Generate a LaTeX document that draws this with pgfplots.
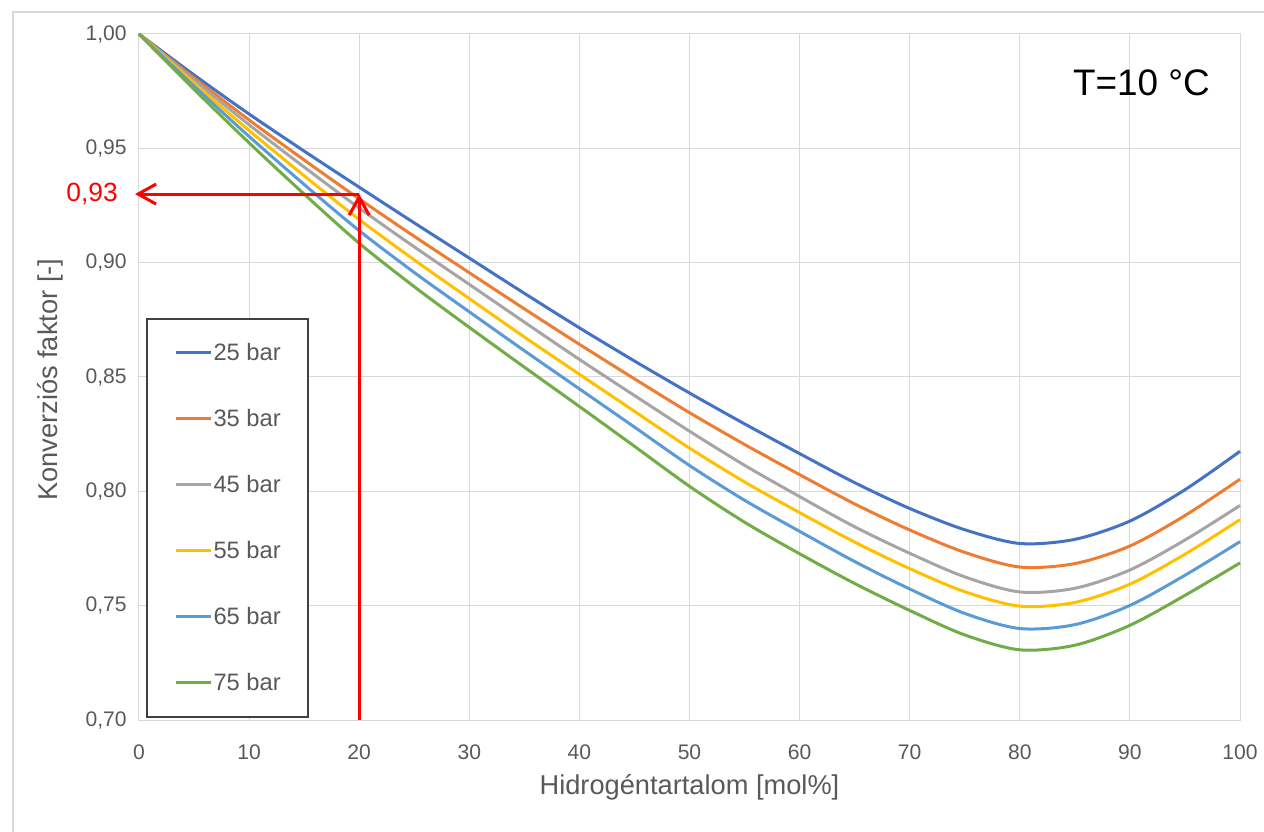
\documentclass[border=0pt]{standalone}
\usepackage{fontspec}
\setmainfont{Liberation Sans}
\usepackage{pgfplots}
\pgfplotsset{compat=1.18}
\usepackage{pgfplotstable}
\usetikzlibrary{arrows.meta}

\definecolor{c25}{HTML}{4472C4}
\definecolor{c35}{HTML}{ED7D31}
\definecolor{c45}{HTML}{A5A5A5}
\definecolor{c55}{HTML}{FFC000}
\definecolor{c65}{HTML}{5B9BD5}
\definecolor{c75}{HTML}{70AD47}
\definecolor{gridc}{HTML}{D9D9D9}
\definecolor{txt}{HTML}{595959}
\definecolor{legc}{HTML}{404040}

% conversion factor vs hydrogen content, one column per pressure
\pgfplotstableread{
x    b25    b35    b45    b55    b65    b75
0    1.000  1.000  1.000  1.000  1.000  1.000
5    0.9821 0.9808 0.9798 0.9785 0.9772 0.9758
10   0.965  0.9624 0.9603 0.9578 0.9552 0.9524
15   0.9488 0.9449 0.9418 0.938  0.9342 0.930
20   0.933  0.9279 0.9239 0.9189 0.914  0.9085
25   0.9174 0.9115 0.9069 0.9012 0.8957 0.8895
30   0.902  0.8956 0.8905 0.8843 0.8785 0.8717
35   0.8866 0.8798 0.874  0.8675 0.8615 0.8543
40   0.8715 0.8643 0.8577 0.8512 0.8448 0.8371
45   0.857  0.8492 0.8419 0.835  0.8281 0.8197
50   0.843  0.8344 0.8263 0.8189 0.8113 0.8022
55   0.8295 0.8205 0.8114 0.8041 0.7961 0.7865
60   0.8165 0.8073 0.7977 0.7907 0.7825 0.7727
65   0.8038 0.7945 0.7845 0.7778 0.7693 0.7597
70   0.7925 0.7831 0.7729 0.7662 0.7573 0.7479
75   0.7832 0.7733 0.7626 0.7561 0.7466 0.7372
80   0.7772 0.7669 0.756  0.7498 0.740  0.7307
85   0.779  0.7684 0.7576 0.7514 0.7417 0.7327
90   0.787  0.7761 0.7656 0.7594 0.7501 0.7414
95   0.8007 0.7894 0.7787 0.7725 0.7633 0.7545
100  0.8175 0.8053 0.7938 0.7876 0.778  0.7687
}\kfdata

\begin{document}
\begin{tikzpicture}
\begin{axis}[
    at={(0,0)}, anchor=south west,
    scale only axis,
    width=22.02cm, height=13.72cm,
    xmin=0, xmax=100, ymin=0.70, ymax=1.00,
    xtick={0,10,...,100},
    ytick={0.70,0.75,0.80,0.85,0.90,0.95,1.00},
    grid=major,
    major grid style={gridc, line width=0.02cm},
    axis line style={gridc, line width=0.02cm},
    tick style={draw=none},
    clip=false,
    /pgf/number format/assume math mode=true,
    tick label style={font=\fontsize{12}{14}\selectfont, text=txt},
    yticklabel style={/pgf/number format/.cd, fixed, fixed zerofill, precision=2, use comma,
        /tikz/.cd, anchor=east, inner sep=0pt, xshift=-0.24cm},
    xticklabel style={anchor=center, yshift=-0.64cm},
    xlabel={Hidrogéntartalom [mol\%]},
    xlabel style={at={(axis description cs:0.5,-0.0977)}, anchor=center,
        font=\fontsize{15.5}{18}\selectfont, text=txt},
    ylabel={Konverziós faktor [-]},
    ylabel style={at={(axis description cs:-0.0808,0.496)}, anchor=center,
        font=\fontsize{15.5}{18}\selectfont, text=txt},
    legend cell align=left,
    legend style={at={(axis description cs:0.0064,0.003)}, anchor=south west,
        draw=legc, line width=0.04cm, fill=white,
        inner xsep=0.55cm, inner ysep=0.52cm,
        row sep=1.0cm, column sep=0.02cm,
        nodes={inner sep=0pt, text height=0.32cm, text depth=0pt,
            font=\fontsize{13.5}{16}\selectfont, text=txt}},
    legend image code/.code={\draw[#1] (0cm,0cm) -- (0.7cm,0cm);},
    every axis plot/.append style={line width=0.06cm, smooth},
]
\addplot[c25] table[x=x, y=b25] {\kfdata};
\addlegendentry{25 bar}
\addplot[c35] table[x=x, y=b35] {\kfdata};
\addlegendentry{35 bar}
\addplot[c45] table[x=x, y=b45] {\kfdata};
\addlegendentry{45 bar}
\addplot[c55] table[x=x, y=b55] {\kfdata};
\addlegendentry{55 bar}
\addplot[c65] table[x=x, y=b65] {\kfdata};
\addlegendentry{65 bar}
\addplot[c75] table[x=x, y=b75] {\kfdata};
\addlegendentry{75 bar}

% red reading guide
\addplot[red, line width=0.06cm, sharp plot, forget plot,
    -{Straight Barb[length=0.36cm, width=0.4cm]}] coordinates {(20,0.70) (20,0.93)};
\addplot[red, line width=0.06cm, sharp plot, forget plot,
    -{Straight Barb[length=0.36cm, width=0.4cm]}] coordinates {(20,0.93) (-0.36,0.93)};
\node[anchor=east, inner sep=0pt, text=red, font=\fontsize{15}{18}\selectfont]
    at (axis cs:-1.9,0.93) {0,93};
\node[anchor=west, inner sep=0pt, font=\fontsize{21}{24}\selectfont]
    at (axis cs:84.8,0.9786) {T=10 °C};
\end{axis}
\draw[gridc, line width=0.03cm] (-2.52,-2.4) -- (-2.52,14.16) -- (22.6,14.16);
\pgfresetboundingbox
\useasboundingbox (-2.78,-2.22) rectangle (22.5,14.4);
\end{tikzpicture}
\end{document}
